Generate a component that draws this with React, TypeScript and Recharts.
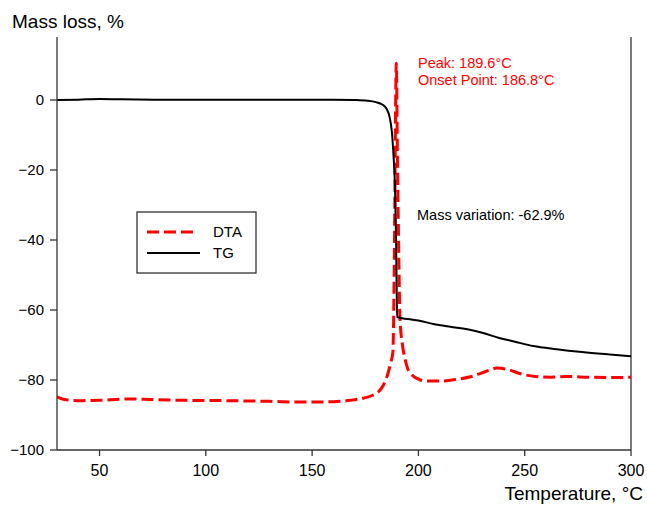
import { LineChart, Line, XAxis, YAxis, ReferenceLine } from 'recharts';

// TG curve (mass loss, %)
const tgTemp = [30, 40, 50, 60, 80, 100, 120, 140, 160, 170, 176, 180, 183, 185, 186.5, 187.5, 188.3, 189, 189.5, 189.8, 190, 195, 200, 207, 215, 223, 230, 238, 245, 254, 265, 277, 290, 300];
const tgMass = [0, 0.1, 0.3, 0.2, 0.1, 0.1, 0.1, 0.1, 0.1, 0, -0.2, -0.6, -1.3, -2.5, -5, -9, -16, -25, -40, -55, -62, -62.6, -63, -64, -64.8, -65.5, -66.5, -68, -69, -70.3, -71.2, -72, -72.7, -73.2];

// DTA curve (scaled onto the same axis)
const dtaTemp = [30, 33, 40, 50, 60, 65, 75, 90, 110, 130, 145, 160, 168, 174, 178, 181, 183.5, 185.5, 187, 188, 188.4, 188.9, 189.3, 189.6, 190.2, 190.8, 191.3, 192.5, 193.7, 194.8, 197, 201, 204, 210, 218, 225, 232, 237, 242, 248, 255, 262, 270, 280, 290, 300];
const dtaSignal = [-84.8, -85.5, -85.9, -85.8, -85.5, -85.4, -85.6, -85.8, -85.9, -86.1, -86.3, -86.2, -85.8, -85.2, -84.5, -83.5, -81.5, -78.5, -75, -72, -60, -30, 0, 10.5, -20, -45, -62, -70, -74, -76.5, -78.6, -80, -80.3, -80.3, -79.8, -79, -77.5, -76.6, -77, -78.2, -79, -79.2, -79, -79.2, -79.3, -79.2];

const xTicks = [50, 100, 150, 200, 250, 300];
const yTicks = [-100, -80, -60, -40, -20, 0];

const tgData = tgTemp.map((t, i) => ({ temp: t, value: tgMass[i] }));
const dtaData = dtaTemp.map((t, i) => ({ temp: t, value: dtaSignal[i] }));

const font = '"Liberation Sans", Arial, sans-serif';
const axisColor = '#333';
const red = '#ff0000';

export default function App() {
  return (
    <div style={{ position: 'absolute', left: 0, top: 0, width: 647, height: 506, background: '#fff', fontFamily: font }}>
      <LineChart width={647} height={506} margin={{ top: 37, right: 16, bottom: 0, left: 0 }}>
        <XAxis
          dataKey="temp"
          type="number"
          domain={[30, 300]}
          ticks={xTicks}
          allowDataOverflow
          height={56}
          tickSize={6}
          tickMargin={9}
          axisLine={{ stroke: axisColor, strokeWidth: 1.3 }}
          tickLine={{ stroke: axisColor, strokeWidth: 1.3 }}
          tick={{ fontSize: 16, fill: '#000', fontFamily: font }}
        />
        <YAxis
          type="number"
          domain={[-100, 18]}
          ticks={yTicks}
          allowDataOverflow
          width={57}
          tickSize={7}
          tickMargin={6}
          tickFormatter={(v) => String(v).replace('-', '\u2212')}
          axisLine={{ stroke: axisColor, strokeWidth: 1.3 }}
          tickLine={{ stroke: axisColor, strokeWidth: 1.3 }}
          tick={{ fontSize: 15, fill: '#000', fontFamily: font }}
        />
        <ReferenceLine x={300} stroke={axisColor} strokeWidth={1.3} />
        <Line
          data={dtaData}
          dataKey="value"
          type="monotone"
          stroke={red}
          strokeWidth={3}
          strokeDasharray="12 5"
          dot={false}
          isAnimationActive={false}
        />
        <Line
          data={tgData}
          dataKey="value"
          type="monotone"
          stroke="#000"
          strokeWidth={2}
          dot={false}
          isAnimationActive={false}
        />
      </LineChart>
      <svg width={647} height={506} style={{ position: 'absolute', left: 0, top: 0, pointerEvents: 'none' }}>
        <text x={12} y={28} fontSize={19} fontFamily={font} fill="#000">Mass loss, %</text>
        <text x={643} y={500} fontSize={19} fontFamily={font} fill="#000" textAnchor="end">Temperature, °C</text>
        <text x={418} y={68} fontSize={14.5} fontFamily={font} fill={red}>Peak: 189.6°C</text>
        <text x={418} y={85} fontSize={14.5} fontFamily={font} fill={red}>Onset Point: 186.8°C</text>
        <text x={417} y={220} fontSize={14.5} fontFamily={font} fill="#000">Mass variation: -62.9%</text>
        <rect x={137} y={212} width={119} height={61} fill="#fff" stroke={axisColor} strokeWidth={1.3} />
        <line x1={147} y1={232} x2={194} y2={232} stroke={red} strokeWidth={3} strokeDasharray="12 5" />
        <line x1={147} y1={253} x2={200} y2={253} stroke="#000" strokeWidth={2} />
        <text x={213} y={237} fontSize={15} fontFamily={font} fill="#000">DTA</text>
        <text x={213} y={258} fontSize={15} fontFamily={font} fill="#000">TG</text>
      </svg>
    </div>
  );
}
